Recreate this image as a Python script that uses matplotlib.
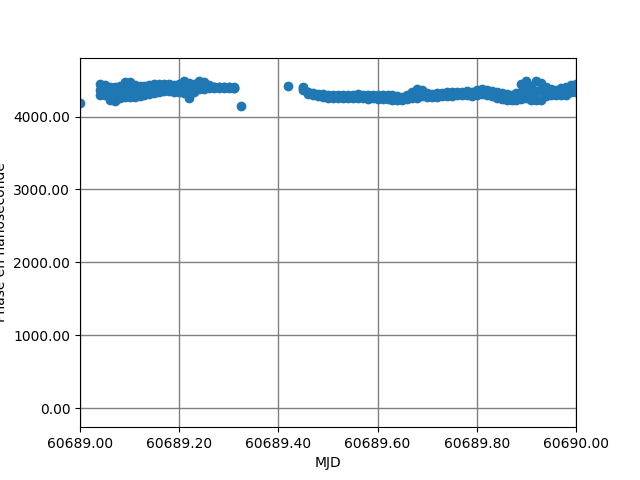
import matplotlib
matplotlib.use("Agg")
import matplotlib.pyplot as plt
from matplotlib.ticker import FormatStrFormatter

# MJD du premier bloc de mesures
mjd_a = [60689.04, 60689.05, 60689.06, 60689.07, 60689.08, 60689.09, 60689.10,
         60689.11, 60689.12, 60689.13, 60689.14, 60689.15, 60689.16, 60689.17,
         60689.18, 60689.19, 60689.20, 60689.21, 60689.22, 60689.23, 60689.24,
         60689.25, 60689.26, 60689.27, 60689.28, 60689.29, 60689.30, 60689.31]
hi_a = [4440, 4430, 4410, 4400, 4420, 4480, 4470, 4430, 4420, 4420, 4430, 4440, 4450, 4450,
        4440, 4430, 4450, 4490, 4460, 4440, 4490, 4480, 4430, 4410, 4410, 4410, 4410, 4400]
mid_a = [4360, 4370, 4330, 4310, 4340, 4380, 4370, 4350, 4350, 4360, 4370, 4380, 4390, 4400,
         4395, 4385, 4390, 4400, 4360, 4385, 4430, 4430, 4410, 4400, 4400, 4400, 4400, 4395]
lo_a = [4290, 4300, 4230, 4210, 4260, 4270, 4270, 4270, 4280, 4300, 4310, 4320, 4330, 4350,
        4350, 4340, 4330, 4320, 4260, 4330, 4380, 4380, 4390, 4390, 4390, 4390, 4390, 4390]

# deuxieme bloc
mjd_b = [60689.45, 60689.46, 60689.47, 60689.48, 60689.49, 60689.50, 60689.51, 60689.52,
         60689.53, 60689.54, 60689.55, 60689.56, 60689.57, 60689.58, 60689.59, 60689.60,
         60689.61, 60689.62, 60689.63, 60689.64, 60689.65, 60689.66, 60689.67, 60689.68,
         60689.69, 60689.70, 60689.71, 60689.72, 60689.73, 60689.74, 60689.75, 60689.76,
         60689.77, 60689.78, 60689.79, 60689.80, 60689.81, 60689.82, 60689.83, 60689.84,
         60689.85, 60689.86, 60689.87, 60689.88, 60689.89, 60689.90, 60689.91, 60689.92,
         60689.93, 60689.94, 60689.95, 60689.96, 60689.97, 60689.98, 60689.99, 60690.00]
hi_b = [4400, 4340, 4320, 4310, 4310, 4300, 4300, 4300, 4300, 4300, 4300, 4310, 4300, 4290,
        4300, 4290, 4300, 4290, 4290, 4280, 4270, 4300, 4330, 4380, 4360, 4320, 4310, 4320,
        4320, 4330, 4330, 4340, 4340, 4350, 4340, 4370, 4380, 4370, 4350, 4330, 4320, 4310,
        4300, 4320, 4450, 4490, 4420, 4490, 4460, 4400, 4380, 4370, 4390, 4400, 4430, 4440]
mid_b = [4385, 4325, 4305, 4295, 4290, 4280, 4275, 4275, 4275, 4275, 4275, 4280, 4275, 4265,
         4275, 4265, 4270, 4265, 4260, 4250, 4250, 4270, 4290, 4320, 4320, 4295, 4290, 4295,
         4300, 4305, 4305, 4315, 4315, 4320, 4310, 4335, 4345, 4335, 4315, 4295, 4280, 4270,
         4260, 4270, 4340, 4370, 4325, 4355, 4345, 4340, 4335, 4330, 4340, 4350, 4380, 4390]
lo_b = [4370, 4310, 4290, 4280, 4270, 4260, 4250, 4250, 4250, 4250, 4250, 4250, 4250, 4240,
        4250, 4240, 4240, 4240, 4230, 4220, 4230, 4240, 4250, 4260, 4280, 4270, 4270, 4270,
        4280, 4280, 4280, 4290, 4290, 4290, 4280, 4300, 4310, 4300, 4280, 4260, 4240, 4230,
        4220, 4220, 4240, 4250, 4230, 4220, 4230, 4280, 4290, 4290, 4290, 4300, 4330, 4340]

# points isoles
mjd_c = [60689.000, 60689.325, 60689.419]
val_c = [4180, 4140, 4415]

x = []
y = []
for m, a, b, c in zip(mjd_a, hi_a, mid_a, lo_a):
    x += [m, m, m]
    y += [a, b, c]
for m, a, b, c in zip(mjd_b, hi_b, mid_b, lo_b):
    x += [m, m, m]
    y += [a, b, c]
x += mjd_c
y += val_c

fig, ax = plt.subplots(figsize=(6.4, 4.8), dpi=100)
ax.scatter(x, y)
ax.set_xlim(60689.0, 60690.0)
ax.set_ylim(-260, 4808)
ax.set_xticks([60689.0, 60689.2, 60689.4, 60689.6, 60689.8, 60690.0])
ax.set_yticks([0, 1000, 2000, 3000, 4000])
ax.xaxis.set_major_formatter(FormatStrFormatter('%.2f'))
ax.yaxis.set_major_formatter(FormatStrFormatter('%.2f'))
ax.grid(True, color='gray', linewidth=1)
ax.set_axisbelow(True)
ax.set_xlabel("MJD")
ax.set_ylabel("Phase en nanoseconde")
fig.savefig("out.png")
